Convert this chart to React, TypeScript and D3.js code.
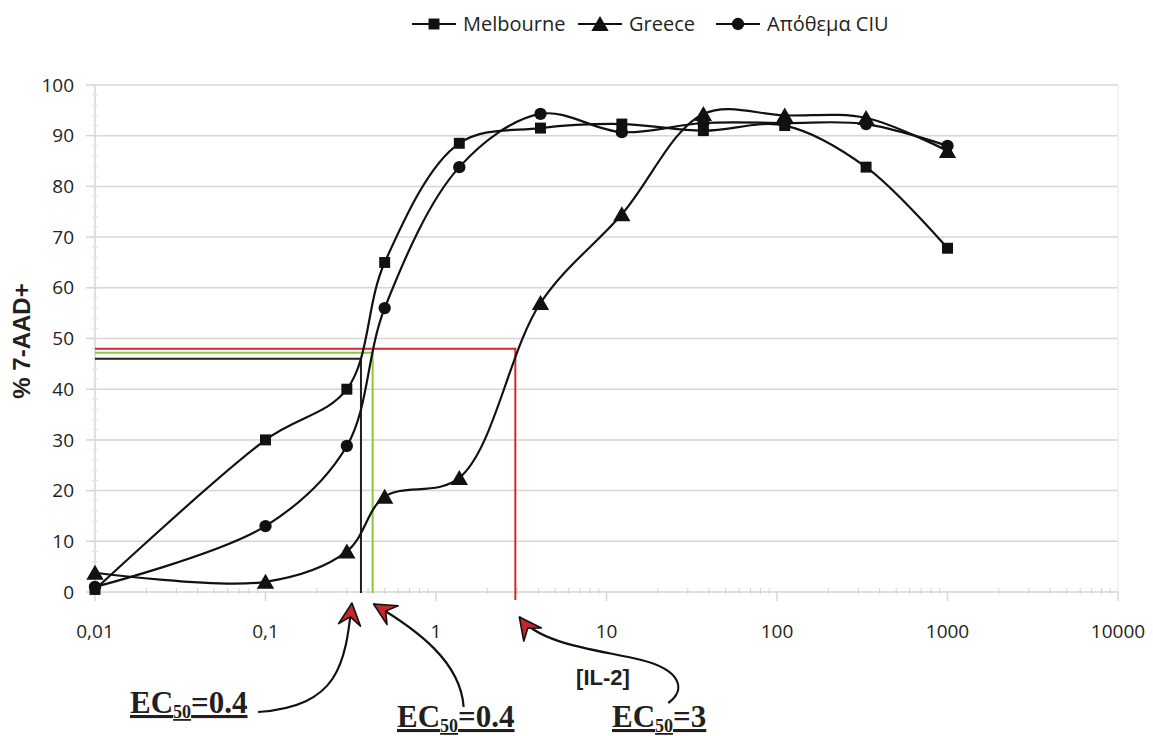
import React, { Component } from 'react';
import * as d3 from 'd3';

// [IL-2] concentrations (log axis) and % 7-AAD+ per series
const concentrations = [0.01, 0.1, 0.3, 0.5, 1.37, 4.1, 12.3, 37, 111, 333, 1000];
const melbourne = [0.5, 30, 40, 65, 88.5, 91.5, 92.3, 91, 92, 83.8, 67.8];
const greece = [3.8, 2, 8, 18.8, 22.5, 57, 74.5, 94.3, 94, 93.5, 87];
const apothema = [1, 13, 28.8, 56, 83.8, 94.3, 90.7, 92.5, 92.5, 92.3, 88];

const seriesNames = ['Melbourne', 'Greece', 'Απόθεμα CIU'];
const seriesSymbols = [d3.symbolSquare, d3.symbolTriangle, d3.symbolCircle];

const yTicks = [0, 10, 20, 30, 40, 50, 60, 70, 80, 90, 100];
const xTicks = [0.01, 0.1, 1, 10, 100, 1000, 10000];
const xTickLabels = ['0,01', '0,1', '1', '10', '100', '1000', '10000'];

// EC50 guide lines: concentration, level, colour
const ec50Conc = [0.363, 0.425, 2.92];
const ec50Level = [46, 47.2, 48];
const ec50Colors = ['#231f20', '#8dc63f', '#d7262a'];
const ec50Labels = ['0.4', '0.4', '3'];

class App extends Component {
    svgRef = React.createRef<SVGSVGElement>();
    width = 1153;
    height = 736;

    componentDidMount() {
        this.draw();
    }

    draw() {
        const svg = d3.select(this.svgRef.current);
        svg.selectAll('*').remove();

        const x = d3.scaleLog().domain([0.01, 10000]).range([95, 1118]);
        const y = d3.scaleLinear().domain([0, 100]).range([592, 85]);
        const sans = "'Open Sans', 'Noto Sans', sans-serif";
        const arial = "'Liberation Sans', Arial, sans-serif";
        const grid = '#d6d6d6';

        // arrowhead marker
        svg.append('defs').append('marker')
            .attr('id', 'dart')
            .attr('viewBox', '-24 -13 27 26')
            .attr('markerUnits', 'userSpaceOnUse')
            .attr('markerWidth', 27)
            .attr('markerHeight', 26)
            .attr('refX', 0)
            .attr('refY', 0)
            .attr('orient', 'auto-start-reverse')
            .append('path')
            .attr('d', 'M0,0 L-22,-11 L-14,0 L-22,11 Z')
            .attr('fill', '#c1272d')
            .attr('stroke', '#111')
            .attr('stroke-width', 1.6)
            .attr('stroke-linejoin', 'round');

        // gridlines
        svg.append('g').selectAll('line')
            .data(yTicks.slice(1))
            .enter().append('line')
            .attr('x1', x(0.01)).attr('x2', x(10000))
            .attr('y1', d => y(d)).attr('y2', d => y(d))
            .attr('stroke', grid).attr('stroke-width', 1.5);

        // y axis
        const yAxis = svg.append('g');
        yAxis.append('line')
            .attr('x1', x(0.01)).attr('x2', x(0.01))
            .attr('y1', y(0)).attr('y2', y(100))
            .attr('stroke', grid).attr('stroke-width', 1.5);
        yAxis.selectAll('.minor')
            .data(d3.range(0, 101, 2))
            .enter().append('line')
            .attr('x1', x(0.01) - 3).attr('x2', x(0.01) + 3)
            .attr('y1', d => y(d)).attr('y2', d => y(d))
            .attr('stroke', '#e2e2e2');
        yAxis.selectAll('.major')
            .data(yTicks)
            .enter().append('line')
            .attr('x1', x(0.01) - 9).attr('x2', x(0.01))
            .attr('y1', d => y(d)).attr('y2', d => y(d))
            .attr('stroke', grid).attr('stroke-width', 1.5);
        yAxis.selectAll('text')
            .data(yTicks)
            .enter().append('text')
            .attr('x', 74)
            .attr('y', d => y(d))
            .attr('dy', '0.35em')
            .attr('text-anchor', 'end')
            .style('font-family', sans)
            .style('font-size', '19px')
            .attr('fill', '#231f20')
            .text(d => d);

        // right frame line
        svg.append('line')
            .attr('x1', x(10000)).attr('x2', x(10000))
            .attr('y1', y(0)).attr('y2', y(100))
            .attr('stroke', '#ececec').attr('stroke-width', 1.5);

        // x axis
        const xAxis = svg.append('g');
        xAxis.append('line')
            .attr('x1', x(0.01)).attr('x2', x(10000))
            .attr('y1', y(0)).attr('y2', y(0))
            .attr('stroke', grid).attr('stroke-width', 1.5);
        const minor: number[] = [];
        xTicks.slice(0, -1).forEach(t => d3.range(2, 10).forEach(k => minor.push(t * k)));
        xAxis.selectAll('.minor')
            .data(minor)
            .enter().append('line')
            .attr('x1', d => x(d)).attr('x2', d => x(d))
            .attr('y1', y(0) - 4).attr('y2', y(0) + 2)
            .attr('stroke', '#d0d0d0');
        xAxis.selectAll('.major')
            .data(xTicks)
            .enter().append('line')
            .attr('x1', d => x(d)).attr('x2', d => x(d))
            .attr('y1', y(0)).attr('y2', y(0) + 9)
            .attr('stroke', grid).attr('stroke-width', 1.5);
        xAxis.selectAll('text')
            .data(xTicks)
            .enter().append('text')
            .attr('x', d => x(d))
            .attr('y', 638)
            .attr('text-anchor', 'middle')
            .style('font-family', sans)
            .style('font-size', '19px')
            .attr('fill', '#231f20')
            .text((d, i) => xTickLabels[i]);

        // y axis title
        svg.append('text')
            .attr('transform', `translate(30,341) rotate(-90)`)
            .attr('text-anchor', 'middle')
            .style('font-family', arial)
            .style('font-weight', 'bold')
            .style('font-size', '24px')
            .attr('fill', '#231f20')
            .text('% 7-AAD+');

        // EC50 guide lines
        ec50Conc.forEach((c, i) => {
            svg.append('path')
                .attr('d', `M${x(0.01)},${y(ec50Level[i])} H${x(c)} V${i === 2 ? y(0) + 8 : y(0) + 1}`)
                .attr('fill', 'none')
                .attr('stroke', ec50Colors[i])
                .attr('stroke-width', 2);
        });

        // series
        const allSeries = [melbourne, greece, apothema];
        const line = d3.line<number>()
            .x((d, i) => x(concentrations[i]))
            .y(d => y(d))
            .curve(d3.curveCatmullRom.alpha(0.5));

        allSeries.forEach(vals => {
            svg.append('path')
                .datum(vals)
                .attr('d', line)
                .attr('fill', 'none')
                .attr('stroke', '#111')
                .attr('stroke-width', 2.2);
        });
        allSeries.forEach((vals, s) => {
            const sym = d3.symbol().type(seriesSymbols[s]).size(s === 1 ? 130 : 120);
            svg.append('g').selectAll('path')
                .data(vals)
                .enter().append('path')
                .attr('transform', (d, i) => `translate(${x(concentrations[i])},${y(d) + (s === 1 ? 2 : 0)})`)
                .attr('d', sym)
                .attr('fill', '#111');
        });

        // legend
        const legendX = [412, 578, 716];
        const legend = svg.append('g');
        seriesNames.forEach((name, s) => {
            const lx = legendX[s];
            legend.append('line')
                .attr('x1', lx).attr('x2', lx + 44)
                .attr('y1', 24).attr('y2', 24)
                .attr('stroke', '#111').attr('stroke-width', 2.2);
            legend.append('path')
                .attr('transform', `translate(${lx + 22},${24 + (s === 1 ? 2 : 0)})`)
                .attr('d', d3.symbol().type(seriesSymbols[s]).size(s === 1 ? 130 : 120))
                .attr('fill', '#111');
            legend.append('text')
                .attr('x', lx + 51)
                .attr('y', 24)
                .attr('dy', '0.35em')
                .style('font-family', sans)
                .style('font-size', '20px')
                .attr('fill', '#231f20')
                .text(name);
        });

        // arrows pointing at EC50 values
        const tip = ec50Conc.map(c => x(c));
        const arrows = [
            `M${tip[0] - 9},603 C${tip[0] - 16},665 ${tip[0] - 22},706 258,712`,
            `M${tip[1] + 1},604 C${tip[1] + 45},630 ${tip[1] + 88},662 ${tip[1] + 91},707`,
            `M${tip[2] + 4},617 C${tip[2] + 25},645 ${tip[2] + 85},650 ${tip[2] + 126},660 C${tip[2] + 166},670 ${tip[2] + 171},690 ${tip[2] + 153},703`
        ];
        svg.append('g').selectAll('path')
            .data(arrows)
            .enter().append('path')
            .attr('d', d => d)
            .attr('fill', 'none')
            .attr('stroke', '#111')
            .attr('stroke-width', 2.2)
            .attr('marker-start', 'url(#dart)');

        // [IL-2]
        svg.append('text')
            .attr('x', 603)
            .attr('y', 685)
            .attr('text-anchor', 'middle')
            .style('font-family', arial)
            .style('font-weight', 'bold')
            .style('font-size', '22px')
            .attr('fill', '#231f20')
            .text('[IL-2]');

        // EC50 labels
        const labelPos = [[130, 713], [397, 727], [612, 727]];
        ec50Labels.forEach((v, i) => {
            const t = svg.append('text')
                .attr('x', labelPos[i][0])
                .attr('y', labelPos[i][1])
                .style('font-family', "'Liberation Serif', 'Times New Roman', serif")
                .style('font-weight', 'bold')
                .style('font-size', '31px')
                .style('text-decoration', 'underline')
                .attr('fill', '#231f20');
            t.append('tspan').text('EC');
            t.append('tspan').attr('dy', 5).style('font-size', '18px').text('50');
            t.append('tspan').attr('dy', -5).text('=' + v);
        });
    }

    render() {
        return (
            <svg
                ref={this.svgRef}
                width={this.width}
                height={this.height}
                style={{ position: 'absolute', left: 0, top: 0, background: '#fff' }}
            ></svg>
        );
    }
}

export default App;
